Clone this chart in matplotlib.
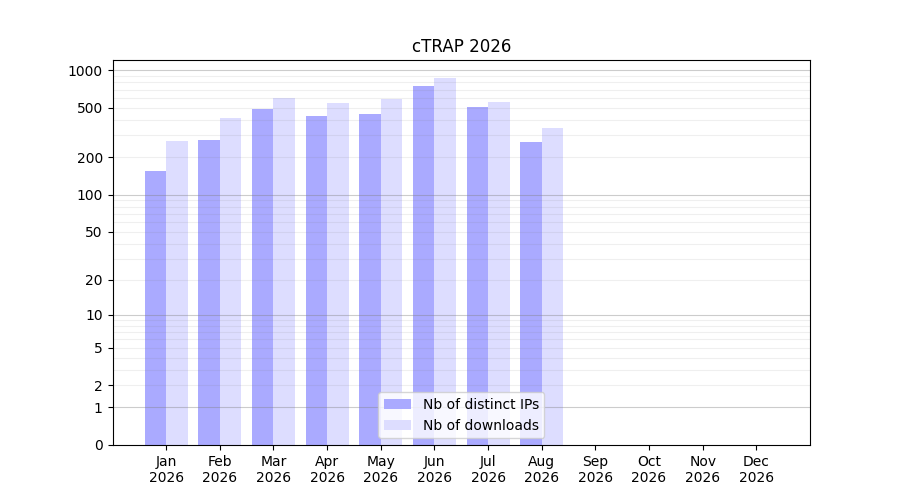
import numpy as np
import matplotlib
matplotlib.use("Agg")
import matplotlib.pyplot as plt
from matplotlib.ticker import FixedLocator, NullFormatter

months = ["Jan", "Feb", "Mar", "Apr", "May", "Jun", "Jul", "Aug", "Sep", "Oct", "Nov", "Dec"]
year = "2026"
ips = [155, 275, 487, 428, 444, 744, 505, 265, 0, 0, 0, 0]
downloads = [270, 412, 596, 544, 590, 862, 554, 343, 0, 0, 0, 0]
ytick_vals = [0, 1, 2, 5, 10, 20, 50, 100, 200, 500, 1000]
major_grid = [1, 10, 100, 1000]
minor_grid = [2, 3, 4, 5, 6, 7, 8, 9, 20, 30, 40, 50, 60, 70, 80, 90,
              200, 300, 400, 500, 600, 700, 800, 900]

fig, ax = plt.subplots(figsize=(9, 5), dpi=100)

x = np.arange(len(months))
w = 0.4
ax.bar(x - w / 2, ips, width=w, color="#aaaaff", label="Nb of distinct IPs", zorder=1)
ax.bar(x + w / 2, downloads, width=w, color="#ddddff", label="Nb of downloads", zorder=1)

ax.set_yscale("function", functions=(lambda v: np.log10(1 + np.maximum(v, 0)),
                                     lambda v: 10 ** v - 1))
ax.set_ylim(bottom=0)
ax.yaxis.set_major_locator(FixedLocator(ytick_vals))
ax.set_yticklabels([str(v) for v in ytick_vals])
ax.yaxis.set_minor_locator(FixedLocator([]))
ax.yaxis.set_minor_formatter(NullFormatter())

for v in minor_grid:
    ax.axhline(v, color="gray", alpha=0.12, linewidth=0.8, zorder=2)
for v in major_grid:
    ax.axhline(v, color="gray", alpha=0.4, linewidth=0.8, zorder=2)

ax.set_xlim(-1, 12)
ax.set_xticks(x)
ax.set_xticklabels([f"{m}\n{year}" for m in months])
ax.set_title("cTRAP 2026")
ax.legend(loc="lower center")

fig.savefig("out.png")
